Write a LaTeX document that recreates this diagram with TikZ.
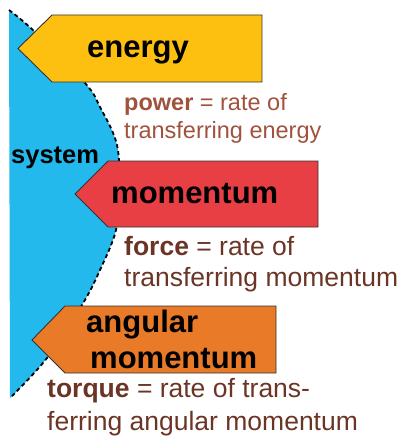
\documentclass[tikz,border=0pt]{standalone}
\usepackage{fontspec}
\setmainfont{Liberation Sans}
\definecolor{sysblue}{HTML}{23B9EC}
\definecolor{energyc}{HTML}{FDC010}
\definecolor{momc}{HTML}{E83F45}
\definecolor{angc}{HTML}{E97A28}
\definecolor{powerc}{HTML}{A0523C}
\definecolor{forcec}{HTML}{6B3526}
\begin{document}
\begin{tikzpicture}[x=1pt,y=-1pt,
  flowarrow/.style={draw=black!80, line width=0.9pt, line join=miter},
  boundary/.style={draw=black, line width=1.8pt, dash pattern=on 4pt off 3pt},
  blab/.style={font=\bfseries\fontsize{31}{36}\selectfont, inner sep=0, anchor=base west},
  ptext/.style={font=\fontsize{23.5}{28}\selectfont, text=powerc, inner sep=0, anchor=base west},
  ftext/.style={font=\fontsize{26.5}{31}\selectfont, text=forcec, inner sep=0, anchor=base west},
  stext/.style={font=\bfseries\fontsize{25.5}{30}\selectfont, inner sep=0, anchor=base west}]
\useasboundingbox (0,0) rectangle (403,436);
% system region
\fill[sysblue] (9,10) plot[smooth,tension=0.6] coordinates {(9,10) (35,32) (85,83) (100,107) (117,145) (119,190) (116,230) (100,270) (82,305) (47,358) (10,398)} -- cycle;
\draw[boundary] plot[smooth,tension=0.6] coordinates {(9,10) (35,32) (85,83) (100,107) (117,145) (119,190) (116,230) (100,270) (82,305) (47,358) (10,398)};
% arrows
\draw[flowarrow, fill=energyc] (18,48.5) -- (52,15) -- (262,15) -- (262,82) -- (52,82) -- cycle;
\draw[flowarrow, fill=momc] (75,194) -- (108,161) -- (318,161) -- (318,227) -- (108,227) -- cycle;
\draw[flowarrow, fill=angc] (32,340) -- (65,306) -- (276,306) -- (276,373) -- (65,373) -- cycle;
% labels
\node[blab] (energy) at (87,57) {energy};
\node[blab] (mom) at (111,203) {momentum};
\node[blab] (ang1) at (86,332) {angular};
\node[blab] (ang2) at (90,368) {momentum};
\node[stext] (sys) at (11,163) {system};
\node[ptext] (pow1) at (124,110) {\textbf{power} = rate of};
\node[ptext] (pow2) at (124,138) {transferring energy};
\node[ftext] (for1) at (124,255) {\textbf{force} = rate of};
\node[ftext] (for2) at (124,286) {transferring momentum};
\node[ftext] (tor1) at (47,397) {\textbf{torque} = rate of trans-};
\node[ftext] (tor2) at (47,430) {ferring angular momentum};
\end{tikzpicture}
\end{document}
